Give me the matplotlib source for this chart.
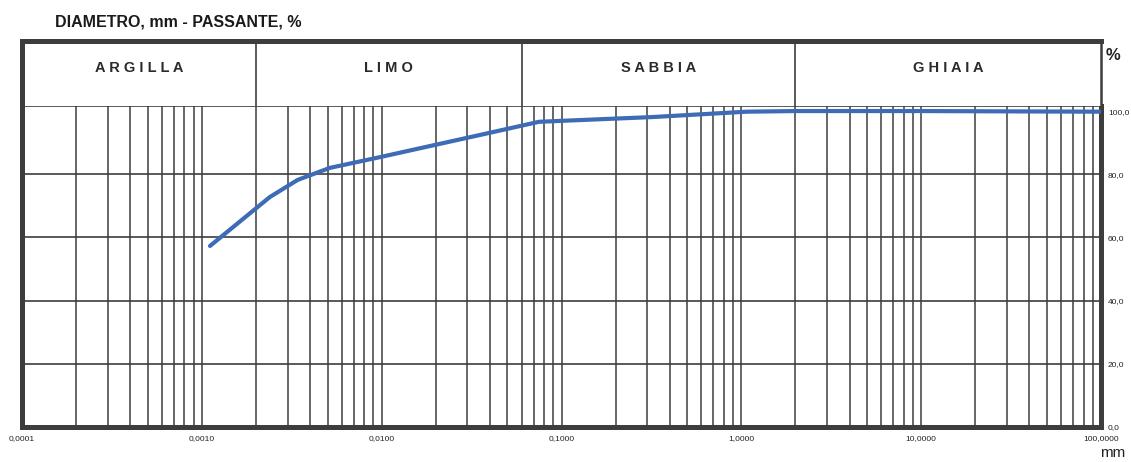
import numpy as np
import matplotlib
matplotlib.use("Agg")
import matplotlib.pyplot as plt

plt.rcParams['font.family'] = ['Liberation Sans', 'DejaVu Sans']

# grain size curve (diameter mm, passing %)
diam = [0.00111, 0.00239, 0.00341, 0.00514, 0.00975, 0.035, 0.075, 0.11, 0.32, 1.07, 2.0, 5.0, 10.0, 30.0, 100.0]
passing = [57.3, 72.8, 78.2, 82.0, 85.4, 92.4, 96.6, 97.0, 98.1, 99.8, 100.0, 100.0, 100.0, 99.9, 99.8]

# classes and limits
classes = ["ARGILLA", "LIMO", "SABBIA", "GHIAIA"]
limits = [1e-4, 0.002, 0.06, 2.0, 100.0]

x_ticks = [0.0001, 0.001, 0.01, 0.1, 1.0, 10.0, 100.0]
x_labels = ["0,0001", "0,0010", "0,0100", "0,1000", "1,0000", "10,0000", "100,0000"]
y_ticks = [0, 20, 40, 60, 80, 100]
y_labels = ["0,0", "20,0", "40,0", "60,0", "80,0", "100,0"]

W, H = 1131, 462
fig = plt.figure(figsize=(W / 100, H / 100), dpi=100)
grid_c = "#3d3d3d"

x0, x1 = 22, 1101
y_top, y_mid, y_bot = 41, 106, 427

ax = fig.add_axes([x0 / W, (H - y_bot) / H, (x1 - x0) / W, (y_bot - y_mid) / H])
hx = fig.add_axes([x0 / W, (H - y_mid) / H, (x1 - x0) / W, (y_mid - y_top) / H])

# data area
ax.set_xscale("log")
ax.set_xlim(1e-4, 100)
ax.set_ylim(0, 101.6)
for dec in range(-4, 2):
    for m in range(1, 10):
        v = m * 10.0 ** dec
        if v > 1e-4:
            ax.axvline(v, color=grid_c, lw=1.1, zorder=1)
for yv in [20, 40, 60, 80]:
    ax.axhline(yv, color=grid_c, lw=1.2, zorder=1)

ax.plot(diam, passing, color="#3d6bb5", lw=3.0, solid_capstyle="round", zorder=3)

ax.set_xticks(x_ticks)
ax.set_xticklabels(x_labels, fontsize=6, color="#222222")
ax.xaxis.set_minor_locator(matplotlib.ticker.NullLocator())
ax.tick_params(axis="x", length=0, pad=6)
ax.yaxis.tick_right()
ax.set_yticks(y_ticks)
ax.set_yticklabels(y_labels, fontsize=6, color="#222222")
ax.tick_params(axis="y", length=0, pad=5)
for s in ["left", "bottom", "right"]:
    ax.spines[s].set_linewidth(3.6)
    ax.spines[s].set_color(grid_c)
ax.spines["top"].set_linewidth(1.2)
ax.spines["top"].set_color(grid_c)

# header with soil classes
hx.set_xscale("log")
hx.set_xlim(1e-4, 100)
hx.set_ylim(0, 1)
hx.set_xticks([])
hx.set_yticks([])
hx.xaxis.set_minor_locator(matplotlib.ticker.NullLocator())
for lim in limits[1:-1]:
    hx.axvline(lim, color=grid_c, lw=1.2)
for i, name in enumerate(classes):
    xc = np.sqrt(limits[i] * limits[i + 1])
    hx.text(xc, 0.58, " ".join(name), ha="center", va="center",
            fontsize=10.5, fontweight="bold", color="#2a2a2a")
hx.spines["bottom"].set_visible(False)
hx.spines["top"].set_linewidth(3.6)
hx.spines["left"].set_linewidth(3.6)
hx.spines["right"].set_linewidth(1.8)
for s in ["top", "left", "right"]:
    hx.spines[s].set_color(grid_c)

fig.text(55 / W, 1 - 22 / H, "DIAMETRO, mm - PASSANTE, %", fontsize=11.5,
         fontweight="bold", color="#1a1a1a", va="center", ha="left")
fig.text(1106 / W, 1 - 56 / H, "%", fontsize=12, fontweight="bold", color="#222222",
         va="center", ha="left")
fig.text(1100 / W, 1 - 453 / H, "mm", fontsize=11, color="#222222", va="center", ha="left")

fig.savefig("out.png", dpi=100)
